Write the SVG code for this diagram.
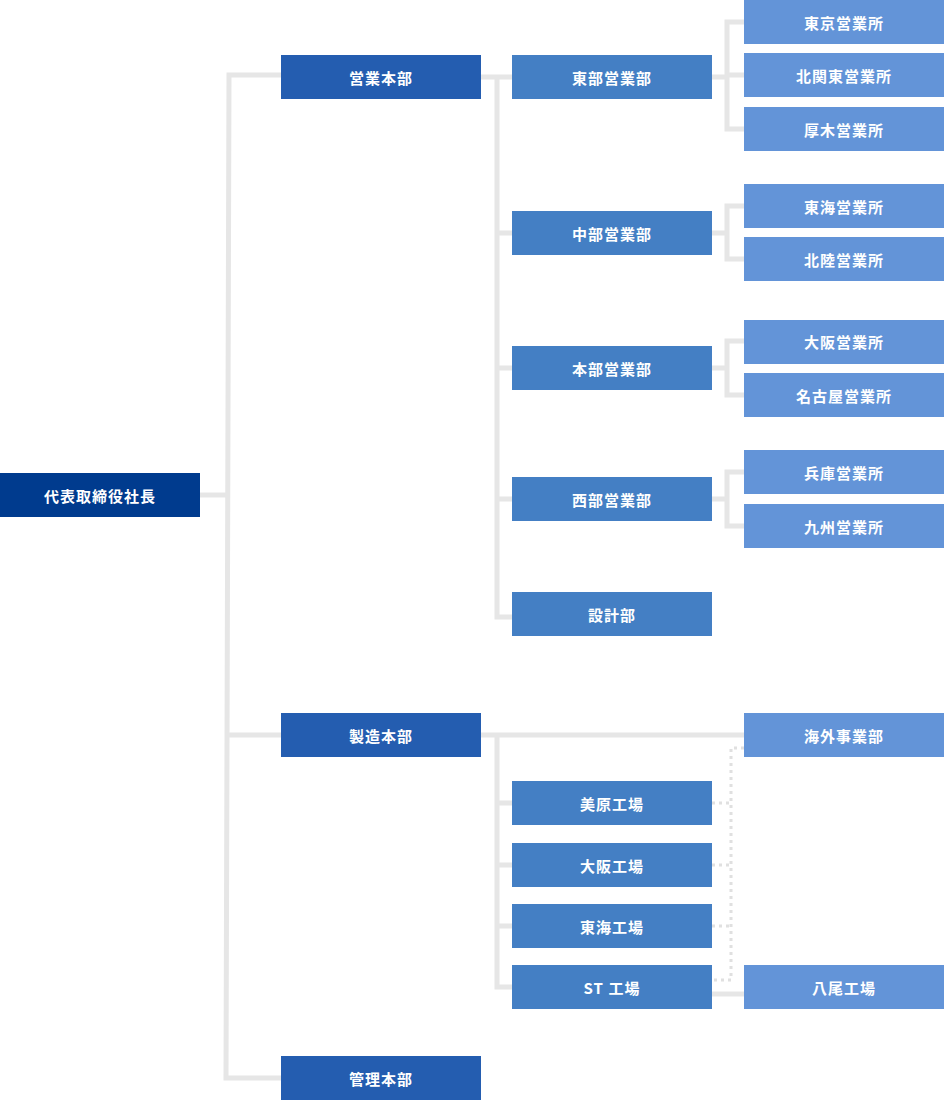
<svg xmlns="http://www.w3.org/2000/svg" width="944" height="1101" viewBox="0 0 944 1101">
<style>
.ln{fill:none;stroke:#e6e6e6;stroke-width:5}
.dt{fill:none;stroke:#e0e0e0;stroke-width:3;stroke-dasharray:3 4}
.c0{fill:#003b8e}
.c1{fill:#245db0}
.c2{fill:#447fc4}
.c3{fill:#6394d8}
text{fill:#fff;font-family:"Noto Sans CJK JP","Noto Sans",sans-serif;font-size:15px;font-weight:bold;text-anchor:middle;dominant-baseline:central;letter-spacing:1px}
</style>
<rect width="944" height="1101" fill="#fff"/>
<g id="connectors">
<path class="ln" d="M200 495H228"/>
<path class="ln" d="M281 75H229L226 1078H281"/>
<path class="ln" d="M228 735H281"/>
<path class="ln" d="M481 77H512M497 77V617H512M497 233H512M497 368H512M497 499H512"/>
<path class="ln" d="M712 77H727M744 22H727V129H744M727 75H744"/>
<path class="ln" d="M712 233H727M744 206H727V259H744"/>
<path class="ln" d="M712 368H727M744 341H727V395H744"/>
<path class="ln" d="M712 499H727M744 472H727V526H744"/>
<path class="ln" d="M481 735H744M497 735V987H512M497 803H512M497 865H512M497 926H512"/>
<path class="ln" d="M712 994H744"/>
<path class="dt" d="M744 748H731V980H712M712 803H731M712 865H731M712 926H731"/>
</g>
<g id="ceo"><rect class="c0" x="0" y="473" width="200" height="44"/><text x="100" y="495">代表取締役社長</text></g>
<g id="eigyo-honbu"><rect class="c1" x="281" y="55" width="200" height="44"/><text x="381" y="77">営業本部</text></g>
<g id="seizo-honbu"><rect class="c1" x="281" y="713" width="200" height="44"/><text x="381" y="735">製造本部</text></g>
<g id="kanri-honbu"><rect class="c1" x="281" y="1056" width="200" height="44"/><text x="381" y="1078">管理本部</text></g>
<g id="tobu"><rect class="c2" x="512" y="55" width="200" height="44"/><text x="612" y="77">東部営業部</text></g>
<g id="chubu"><rect class="c2" x="512" y="211" width="200" height="44"/><text x="612" y="233">中部営業部</text></g>
<g id="honbu-eigyo"><rect class="c2" x="512" y="346" width="200" height="44"/><text x="612" y="368">本部営業部</text></g>
<g id="seibu"><rect class="c2" x="512" y="477" width="200" height="44"/><text x="612" y="499">西部営業部</text></g>
<g id="sekkei"><rect class="c2" x="512" y="592" width="200" height="44"/><text x="612" y="614">設計部</text></g>
<g id="mihara"><rect class="c2" x="512" y="781" width="200" height="44"/><text x="612" y="803">美原工場</text></g>
<g id="osaka-kojo"><rect class="c2" x="512" y="843" width="200" height="44"/><text x="612" y="865">大阪工場</text></g>
<g id="tokai-kojo"><rect class="c2" x="512" y="904" width="200" height="44"/><text x="612" y="926">東海工場</text></g>
<g id="st-kojo"><rect class="c2" x="512" y="965" width="200" height="44"/><text x="612" y="987">ST 工場</text></g>
<g id="tokyo"><rect class="c3" x="744" y="0" width="200" height="44"/><text x="844" y="22">東京営業所</text></g>
<g id="kitakanto"><rect class="c3" x="744" y="53" width="200" height="44"/><text x="844" y="75">北関東営業所</text></g>
<g id="atsugi"><rect class="c3" x="744" y="107" width="200" height="44"/><text x="844" y="129">厚木営業所</text></g>
<g id="tokai"><rect class="c3" x="744" y="184" width="200" height="44"/><text x="844" y="206">東海営業所</text></g>
<g id="hokuriku"><rect class="c3" x="744" y="237" width="200" height="44"/><text x="844" y="259">北陸営業所</text></g>
<g id="osaka"><rect class="c3" x="744" y="320" width="200" height="44"/><text x="844" y="341">大阪営業所</text></g>
<g id="nagoya"><rect class="c3" x="744" y="373" width="200" height="44"/><text x="844" y="395">名古屋営業所</text></g>
<g id="hyogo"><rect class="c3" x="744" y="450" width="200" height="44"/><text x="844" y="472">兵庫営業所</text></g>
<g id="kyushu"><rect class="c3" x="744" y="504" width="200" height="44"/><text x="844" y="526">九州営業所</text></g>
<g id="kaigai"><rect class="c3" x="744" y="713" width="200" height="44"/><text x="844" y="735">海外事業部</text></g>
<g id="yao"><rect class="c3" x="744" y="965" width="200" height="44"/><text x="844" y="987">八尾工場</text></g>
</svg>
